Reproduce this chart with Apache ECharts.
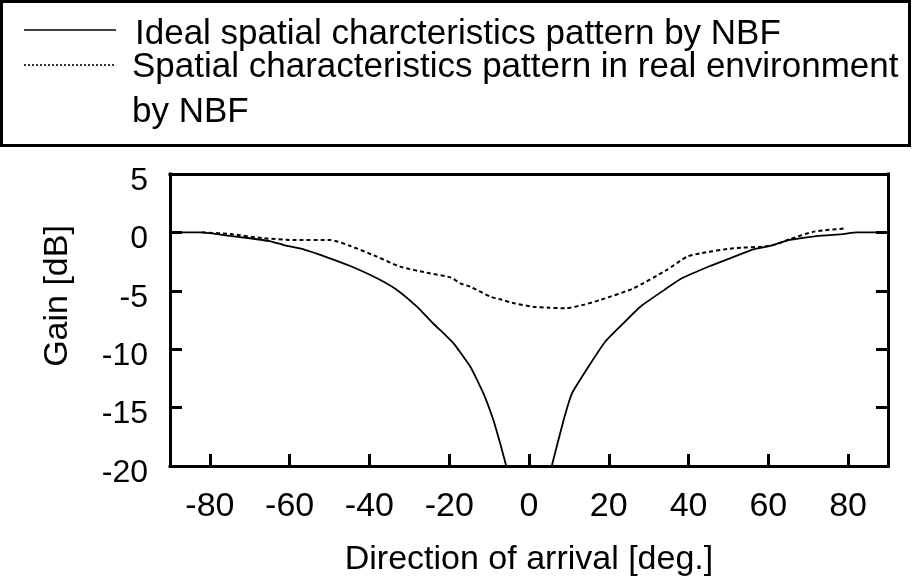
<!DOCTYPE html>
<html>
<head>
<meta charset="utf-8">
<script src="https://cdn.jsdelivr.net/npm/echarts@6/dist/echarts.min.js"></script>
<style>
  html, body { margin: 0; padding: 0; background: #fff; }
  #chart { width: 920px; height: 585px; }
</style>
</head>
<body>
<div id="chart"></div>
<script>
// Direction of arrival (deg) and gain (dB) for the ideal NBF pattern
const idealDeg = [-90, -82, -75, -70, -65, -61.5, -56.5, -50.6, -44.8, -38.1, -33.1, -28.1, -24, -21.4, -18.9, -14.7, -11.4, -8.9, -7.2, -5.7,
                  0,
                  5.7, 8.65, 10.75, 14.9, 19.1, 23.3, 27.9, 34.5, 38.3, 45.4, 50.4, 56.2, 60.4, 65.4, 72.1, 78.8, 82.1, 90];
const idealGain = [0, 0, -0.3, -0.5, -0.75, -1.08, -1.45, -2.13, -2.88, -3.93, -4.93, -6.36, -7.8, -8.64, -9.5, -11.5, -13.8, -16.1, -18.1, -20,
                   null,
                   -20, -16.1, -13.8, -11.5, -9.36, -7.9, -6.36, -4.79, -3.93, -2.88, -2.22, -1.45, -1.16, -0.65, -0.31, -0.14, 0, 0];

// Measured NBF pattern in the real environment
const realDeg = [-82, -74.8, -66.5, -59, -49.8, -44.8, -38.1, -32.3, -25.6, -19.7, -17.2, -14.7, -9.7, -7.2, -4, 1, 5, 9, 13.7, 17.8, 26.2, 34.5, 39.6, 42.9, 51.2, 60.4, 65.4, 71.3, 79.6];
const realGain = [0, -0.14, -0.5, -0.65, -0.65, -1.16, -2.08, -2.93, -3.45, -3.85, -4.36, -4.65, -5.5, -5.73, -6.05, -6.36, -6.45, -6.5, -6.2, -5.79, -4.79, -3.22, -2.08, -1.79, -1.36, -1.16, -0.59, 0.06, 0.35];

const xTicks = [-80, -60, -40, -20, 0, 20, 40, 60, 80];
const yMin = -20, yMax = 5, yStep = 5;

const legendLabels = [
  'Ideal spatial charcteristics pattern by NBF',
  'Spatial characteristics pattern in real environment',
  'by NBF'
];

const FONT = '"Liberation Sans", Arial, Helvetica, sans-serif';
const pair = (xs, ys) => xs.map((x, i) => [x, ys[i]]);

const chart = echarts.init(document.getElementById('chart'), null, { renderer: 'canvas' });

const frameLine = { onZero: false, lineStyle: { color: '#000', width: 3, cap: 'square' } };

chart.setOption({
  animation: false,
  backgroundColor: '#fff',
  grid: { left: 170, right: 32, top: 174, bottom: 119 },
  xAxis: [
    {
      type: 'value', position: 'bottom', min: -90, max: 90,
      axisLine: frameLine,
      axisTick: { inside: true, length: 12, customValues: xTicks, lineStyle: { color: '#000', width: 3 } },
      axisLabel: { customValues: xTicks, margin: 24, color: '#000', fontSize: 34, fontFamily: FONT },
      splitLine: { show: false },
      name: 'Direction of arrival [deg.]', nameLocation: 'middle', nameGap: 77,
      nameTextStyle: { color: '#000', fontSize: 34, fontFamily: FONT }
    },
    {
      type: 'value', position: 'top', min: -90, max: 90,
      axisLine: frameLine, axisTick: { show: false }, axisLabel: { show: false }, splitLine: { show: false }
    }
  ],
  yAxis: [
    {
      type: 'value', position: 'left', min: yMin, max: yMax, interval: yStep,
      axisLine: frameLine,
      axisTick: { inside: true, length: 12, lineStyle: { color: '#000', width: 3 } },
      // labels sit a little below their ticks
      axisLabel: { margin: 22, color: '#000', fontSize: 32, fontFamily: FONT, verticalAlign: 'top', lineHeight: 14 },
      splitLine: { show: false },
      name: 'Gain [dB]', nameLocation: 'middle', nameGap: 95,
      nameTextStyle: { color: '#000', fontSize: 34, fontFamily: FONT, padding: [0, 0, 0, 48] }
    },
    {
      type: 'value', position: 'right', min: yMin, max: yMax, interval: yStep,
      axisLine: frameLine,
      axisTick: { inside: true, length: 12, lineStyle: { color: '#000', width: 3 } },
      axisLabel: { show: false }, splitLine: { show: false }
    }
  ],
  series: [
    {
      name: legendLabels[0], type: 'line', data: pair(idealDeg, idealGain),
      showSymbol: false, connectNulls: false, smooth: 0.15, clip: true,
      lineStyle: { color: '#000', width: 1.8, type: 'solid' }
    },
    {
      name: legendLabels[1] + ' ' + legendLabels[2], type: 'line', data: pair(realDeg, realGain),
      showSymbol: false, smooth: 0.2, clip: true,
      lineStyle: { color: '#000', width: 2, type: [4, 3] }
    }
  ],
  graphic: [
    {
      type: 'group', left: 0, top: 0,
      children: [
        { type: 'rect', shape: { x: 9.5, y: 1.5, width: 908, height: 144 },
          style: { fill: '#fff', stroke: '#000', lineWidth: 3 } },
        { type: 'line', shape: { x1: 32, y1: 30, x2: 124, y2: 30 },
          style: { stroke: '#000', lineWidth: 1.6 } },
        { type: 'line', shape: { x1: 32, y1: 65, x2: 122, y2: 65 },
          style: { stroke: '#000', lineWidth: 1.6, lineDash: [2, 2] } },
        { type: 'text', x: 143, y: 34.4,
          style: { text: legendLabels[0], fill: '#000', fontSize: 35, fontFamily: FONT, verticalAlign: 'middle' } },
        { type: 'text', x: 140, y: 67.7,
          style: { text: legendLabels[1], fill: '#000', fontSize: 35, fontFamily: FONT, verticalAlign: 'middle' } },
        { type: 'text', x: 140, y: 112.7,
          style: { text: legendLabels[2], fill: '#000', fontSize: 35, fontFamily: FONT, verticalAlign: 'middle' } }
      ]
    }
  ]
});
</script>
</body>
</html>
